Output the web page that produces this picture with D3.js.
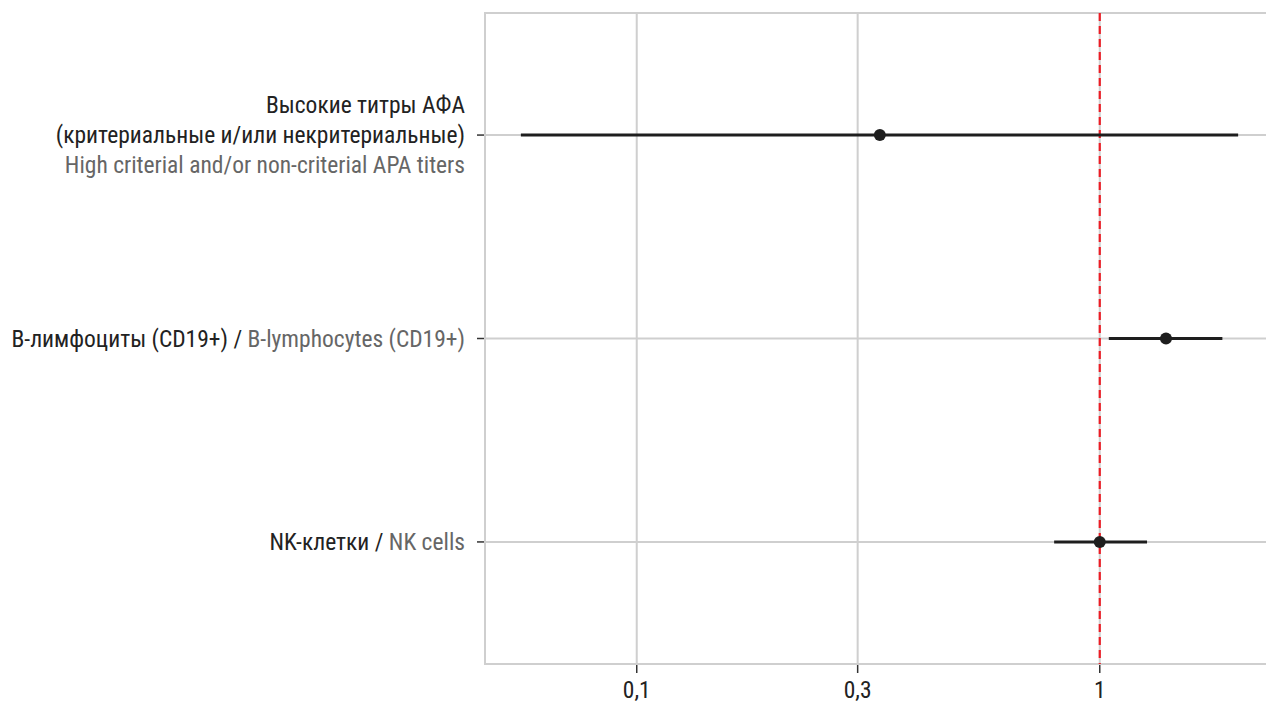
<!DOCTYPE html>
<html><head><meta charset="utf-8">
<script src="https://cdn.jsdelivr.net/npm/d3@7"></script>
<style>
body{margin:0;background:#fff;}
svg text{font-family:"Liberation Sans Narrow","Roboto Condensed",Roboto,sans-serif;}
</style></head>
<body><svg id="c" width="1266" height="704"></svg>
<script>
const labelsRu = [["Высокие титры АФА","(критериальные и/или некритериальные)"],["B-лимфоциты (CD19+) / "],["NK-клетки / "]];
const labelsEn = ["High criterial and/or non-criterial APA titers","B-lymphocytes (CD19+)","NK cells"];
const estimate = [0.335, 1.39, 1.0];
const lower = [0.0562, 1.046, 0.797];
const upper = [1.99, 1.84, 1.265];
const xTicks = [0.1, 0.3, 1];
const xTickLabels = ["0,1","0,3","1"];
const refValue = 1;

(function(){
const svg = d3.select("#c");
const pL = 485, pT = 13, pB = 664, pR = 1274;
const fs = 23.5;
const lo = Math.log10(d3.min(lower)), hi = Math.log10(d3.max(upper));
const pad = (hi - lo) * 0.05;
const x = d3.scaleLog().domain([Math.pow(10, lo - pad), Math.pow(10, hi + pad)]).range([pL, pR]);
const idx = d3.range(estimate.length);
const y = d3.scaleLinear().domain([0.4, 3.6]).range([pT, pB]);
const yPos = i => y(i + 1);

const grid = "#cfcfcf";
svg.selectAll(".vg").data(xTicks).enter().append("line")
  .attr("x1", d => x(d)).attr("x2", d => x(d)).attr("y1", pT).attr("y2", pB)
  .attr("stroke", grid).attr("stroke-width", 2);
svg.selectAll(".hg").data(idx).enter().append("line")
  .attr("x1", pL).attr("x2", pR).attr("y1", yPos).attr("y2", yPos)
  .attr("stroke", grid).attr("stroke-width", 2);
svg.append("rect").attr("x", pL).attr("y", pT).attr("width", pR - pL).attr("height", pB - pT)
  .attr("fill", "none").attr("stroke", grid).attr("stroke-width", 2);

svg.append("line").attr("x1", x(refValue)).attr("x2", x(refValue)).attr("y1", pT).attr("y2", pB)
  .attr("stroke", "#ec1c24").attr("stroke-width", 2.2).attr("stroke-dasharray", "8,5");

svg.selectAll(".ci").data(idx).enter().append("line")
  .attr("x1", i => x(lower[i])).attr("x2", i => x(upper[i]))
  .attr("y1", yPos).attr("y2", yPos)
  .attr("stroke", "#1e1e1e").attr("stroke-width", 3);
svg.selectAll(".pt").data(idx).enter().append("circle")
  .attr("cx", i => x(estimate[i])).attr("cy", yPos).attr("r", 6)
  .attr("fill", "#1e1e1e");

const xa = svg.append("g");
xTicks.forEach((t, k) => {
  xa.append("line").attr("x1", x(t)).attr("x2", x(t)).attr("y1", pB + 1).attr("y2", pB + 9)
    .attr("stroke", "#333").attr("stroke-width", 1.5);
  xa.append("text").attr("x", x(t)).attr("y", 698).attr("text-anchor", "middle")
    .attr("font-size", fs).attr("fill", "#222").text(xTickLabels[k]);
});

const ya = svg.append("g");
idx.forEach(i => {
  const yy = yPos(i);
  ya.append("line").attr("x1", pL - 8).attr("x2", pL - 1).attr("y1", yy).attr("y2", yy)
    .attr("stroke", "#333").attr("stroke-width", 1.5);
  const tx = 465;
  if (labelsRu[i].length > 1) {
    const lines = [[labelsRu[i][0], "#222"], [labelsRu[i][1], "#222"], [labelsEn[i], "#666"]];
    lines.forEach((l, k) => {
      ya.append("text").attr("x", tx).attr("y", yy + (k - 1) * 30 + 8).attr("text-anchor", "end")
        .attr("font-size", fs).attr("fill", l[1]).text(l[0]);
    });
  } else {
    const t = ya.append("text").attr("x", tx).attr("y", yy + 8).attr("text-anchor", "end").attr("font-size", fs);
    t.append("tspan").attr("fill", "#222").text(labelsRu[i][0]);
    t.append("tspan").attr("fill", "#666").text(labelsEn[i]);
  }
});
})();
</script></body></html>
